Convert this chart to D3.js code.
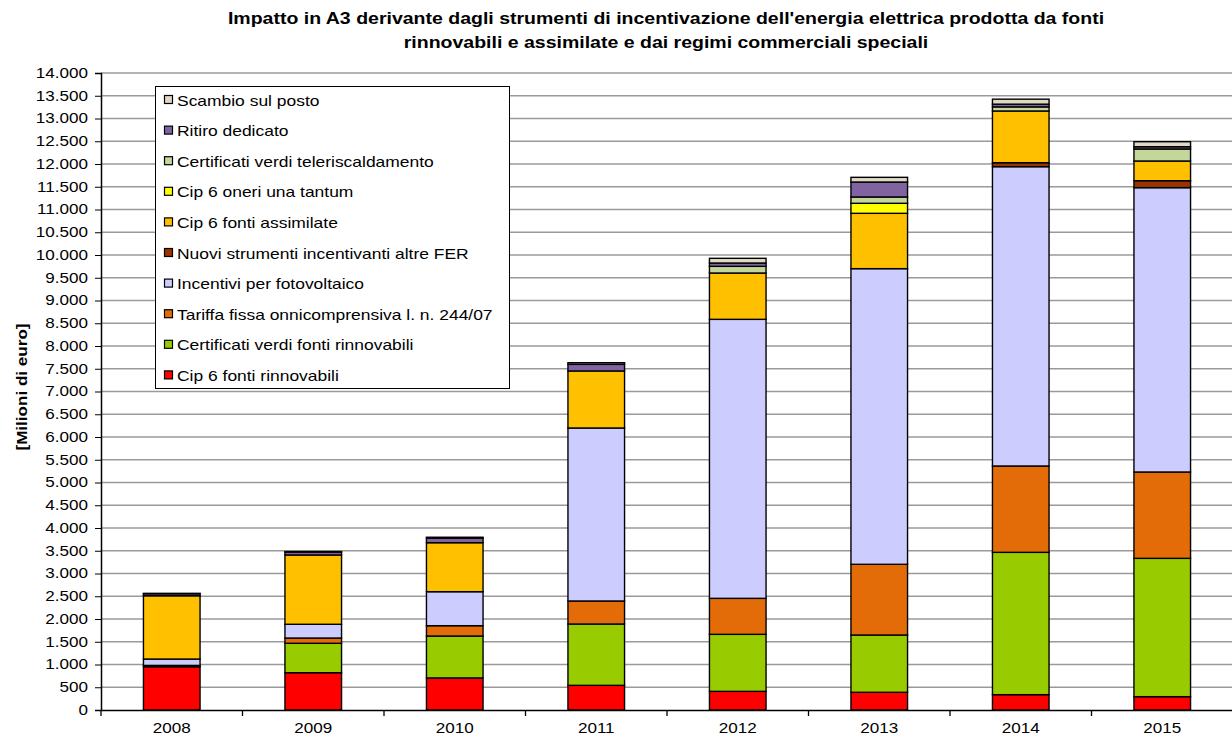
<!DOCTYPE html>
<html><head><meta charset="utf-8">
<script src="https://cdn.jsdelivr.net/npm/d3@7"></script>
<style>body{margin:0;background:#fff}svg{display:block;font-family:Arial,"Liberation Sans",sans-serif}</style>
</head><body><svg id="c" width="1232" height="740"></svg>
<script>
const years = ["2008","2009","2010","2011","2012","2013","2014","2015"];
const seriesNames = ["Cip 6 fonti rinnovabili","Certificati verdi fonti rinnovabili","Tariffa fissa onnicomprensiva l. n. 244/07","Incentivi per fotovoltaico","Nuovi strumenti incentivanti altre FER","Cip 6 fonti assimilate","Cip 6 oneri una tantum","Certificati verdi teleriscaldamento","Ritiro dedicato","Scambio sul posto"];
const seriesColors = ["#FF0000","#99CC00","#E36C09","#CCCCFF","#993300","#FFC000","#FFFF00","#C4D79B","#8064A2","#DDD9C3"];
const cip6Rinn   = [950, 820, 705, 542, 410, 389, 337, 293];
const cvRinn     = [30, 646, 921, 1348, 1253, 1259, 3128, 3040];
const tariffa    = [0, 116, 227, 506, 791, 1554, 1898, 1898];
const foto       = [140, 302, 747, 3802, 6132, 6498, 6578, 6249];
const nuovi      = [0, 0, 0, 0, 0, 0, 88, 153];
const cip6Assim  = [1391, 1523, 1077, 1253, 1018, 1216, 1136, 433];
const unaTantum  = [0, 0, 0, 0, 0, 220, 0, 0];
const cvTeler    = [0, 0, 0, 0, 147, 139, 90, 264];
const ritiro     = [45, 65, 100, 146, 73, 329, 60, 50];
const scambio    = [8, 10, 20, 36, 103, 103, 110, 110];
const yTicks = d3.range(0, 14001, 500);

const seriesValues = [cip6Rinn, cvRinn, tariffa, foto, nuovi, cip6Assim, unaTantum, cvTeler, ritiro, scambio];
const table = years.map((y, i) => {
  const o = {year: y};
  seriesNames.forEach((n, k) => o[n] = seriesValues[k][i]);
  return o;
});
const stacked = d3.stack().keys(seriesNames)(table);

const SX = 1.22;
const svg = d3.select("#c");
const L = 101, R = 1233, T = 73, B = 710;
const x = d3.scaleBand().domain(years).range([L, R]).paddingInner(0).paddingOuter(0);
const y = d3.scaleLinear().domain([0, 14000]).range([B, T]);
const fmt = d3.formatLocale({decimal: ",", thousands: ".", grouping: [3]}).format(",d");

// grid
svg.append("g").selectAll("line").data(yTicks.filter(d => d > 0)).join("line")
  .attr("x1", L).attr("x2", 1232).attr("y1", d => y(d)).attr("y2", d => y(d))
  .attr("stroke", "#9a9a9a").attr("stroke-width", 1.3);

// bars
const bw = x.bandwidth() * 0.4;
const g = svg.append("g");
stacked.forEach((s, k) => {
  g.append("g").selectAll("rect").data(s.filter(d => d[1] - d[0] > 0)).join("rect")
    .attr("x", d => x(d.data.year) + (x.bandwidth() - bw) / 2)
    .attr("width", bw)
    .attr("y", d => y(d[1]))
    .attr("height", d => y(d[0]) - y(d[1]))
    .attr("fill", seriesColors[k])
    .attr("stroke", "#000").attr("stroke-width", 1.4);
});

// y axis
const ya = svg.append("g").attr("transform", `translate(${L},0)`)
  .call(d3.axisLeft(y).tickValues(yTicks).tickFormat(fmt).tickSizeOuter(0).tickSize(6).tickPadding(4.7));
ya.select(".domain").attr("stroke", "#000").attr("stroke-width", 1.5);
ya.selectAll(".tick line").attr("stroke", "#000");
ya.selectAll(".tick text").attr("font-size", 14).attr("fill", "#000")
  .attr("font-family", "Arial, 'Liberation Sans', sans-serif").attr("transform", `scale(${SX},1)`);

// x axis
const xa = svg.append("g").attr("transform", `translate(0,${B})`)
  .call(d3.axisBottom(x).tickSize(0).tickPadding(13));
xa.select(".domain").attr("stroke", "#000").attr("stroke-width", 1.5);
xa.selectAll(".tick text").attr("font-size", 14).attr("fill", "#000")
  .attr("font-family", "Arial, 'Liberation Sans', sans-serif").attr("transform", `scale(${SX},1)`);
xa.append("g").selectAll("line").data(years).join("line")
  .attr("x1", d => x(d)).attr("x2", d => x(d)).attr("y1", 0).attr("y2", 6)
  .attr("stroke", "#000").attr("stroke-width", 1.3);

// title
const title = svg.append("text").attr("text-anchor", "middle").attr("font-weight", "bold").attr("font-size", 16).attr("fill", "#000")
  .attr("transform", `translate(666,0) scale(${SX},1)`);
title.append("tspan").attr("x", 0).attr("y", 24).text("Impatto in A3 derivante dagli strumenti di incentivazione dell'energia elettrica prodotta da fonti");
title.append("tspan").attr("x", 0).attr("y", 48).text("rinnovabili e assimilate e dai regimi commerciali speciali");

// y label
svg.append("text").attr("transform", `translate(27,387) rotate(-90) scale(${SX},1)`).attr("text-anchor", "middle")
  .attr("font-weight", "bold").attr("font-size", 14).text("[Milioni di euro]");

// legend
const lg = svg.append("g");
lg.append("rect").attr("x", 155.5).attr("y", 86.5).attr("width", 354).attr("height", 302)
  .attr("fill", "#fff").attr("stroke", "#000").attr("stroke-width", 1);
const order = d3.range(seriesNames.length).reverse();
const li = lg.selectAll("g.it").data(order).join("g").attr("class", "it")
  .attr("transform", (d, i) => `translate(0,${100 + i * 30.6})`);
li.append("rect").attr("x", 164.5).attr("y", -4.5).attr("width", 8).attr("height", 8)
  .attr("fill", d => seriesColors[d]).attr("stroke", "#000").attr("stroke-width", 1.2);
li.append("text").attr("transform", `translate(177,5.5) scale(${SX},1)`).attr("font-size", 14.3).attr("fill", "#000")
  .text(d => seriesNames[d]);
</script></body></html>
